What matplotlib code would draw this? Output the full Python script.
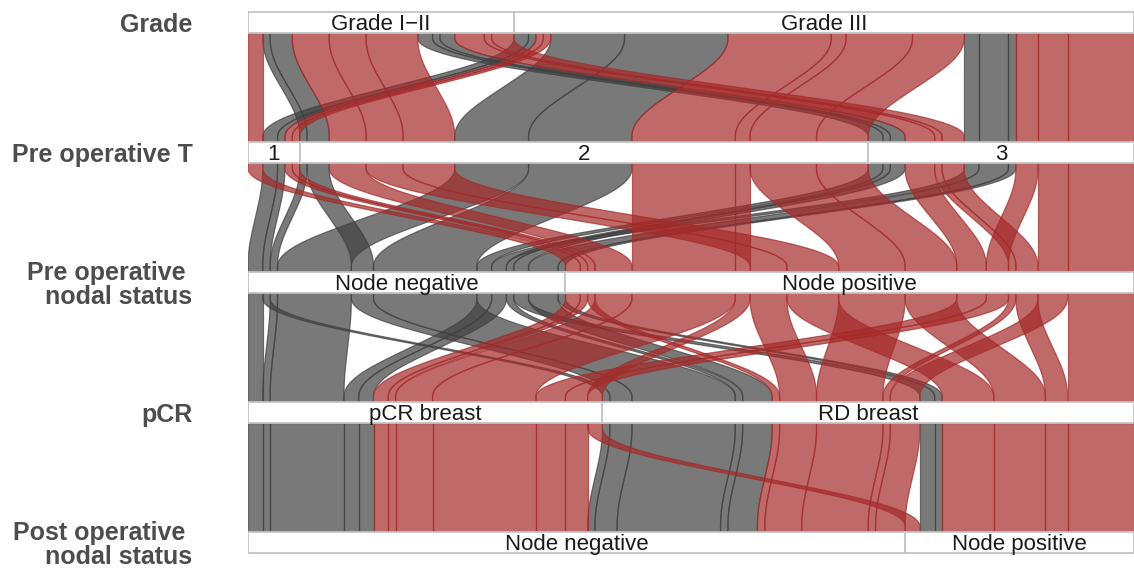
import numpy as np
import matplotlib.pyplot as plt
from matplotlib.patches import Rectangle, Polygon

plt.rcParams['font.family'] = ['Liberation Sans', 'DejaVu Sans']

# axes from top to bottom and their categories (left to right)
axis_titles = ["Grade", "Pre operative T", "Pre operative \nnodal status",
               "pCR", "Post operative \nnodal status"]
levels = [
    ["Grade I\u2212II", "Grade III"],
    ["1", "2", "3"],
    ["Node negative", "Node positive"],
    ["pCR breast", "RD breast"],
    ["Node negative", "Node positive"],
]

# patient groups (index into levels) and number of patients
grade  = [1, 1, 0, 0, 1, 1, 0, 0, 0, 1, 1, 1,
          0, 1, 1, 0, 0, 0, 1, 1, 1, 1, 0, 0, 0, 1, 1, 1]
pre_t  = [0, 0, 1, 1, 1, 1, 2, 2, 2, 2, 2, 2,
          0, 0, 0, 1, 1, 1, 1, 1, 1, 1, 2, 2, 2, 2, 2, 2]
pre_n  = [0, 0, 0, 0, 0, 0, 0, 0, 0, 0, 0, 0,
          1, 1, 1, 1, 1, 1, 1, 1, 1, 1, 1, 1, 1, 1, 1, 1]
pcr    = [0, 1, 0, 1, 0, 1, 0, 1, 1, 0, 1, 1,
          0, 0, 1, 0, 1, 1, 0, 0, 1, 1, 0, 1, 1, 0, 1, 1]
post_n = [0, 0, 0, 0, 0, 0, 0, 0, 1, 0, 0, 1,
          0, 0, 0, 0, 0, 1, 0, 1, 0, 1, 0, 0, 1, 0, 0, 1]
count  = [2, 1, 1, 3, 10, 14, 2, 1, 2, 2, 4, 1,
          2, 1, 1, 5, 5, 7, 14, 2, 9, 7, 4, 1, 3, 3, 4, 9]

# lode ordering inside each axis (zigzag over neighbouring axes)
sort_order = [[0, 1, 2, 3, 4],
              [1, 0, 2, 3, 4],
              [2, 1, 3, 0, 4],
              [3, 4, 2, 1, 0],
              [4, 3, 2, 1, 0]]

fill_colors = ["#404040", "#a52a2a"]   # pre operative node negative / positive

data = np.array([grade, pre_t, pre_n, pcr, post_n]).T
count = np.array(count)
total = count.sum()
n_axes = len(axis_titles)

# start position of every group on every axis
starts = np.zeros((n_axes, len(count)))
for k in range(n_axes):
    keys = [tuple(row[j] for j in sort_order[k]) for row in data]
    idx = sorted(range(len(count)), key=lambda i: keys[i])
    pos = 0
    for i in idx:
        starts[k, i] = pos
        pos += count[i]


def flow_curve(kp=0.25, n=30):
    # clamped cubic B-spline through (0,0),(0,kp),(1,1-kp),(1,1):
    # returns shift fraction and height fraction
    P = np.array([[0, 0], [0, 0], [0, 0], [0, kp],
                  [1, 1 - kp], [1, 1], [1, 1], [1, 1]], dtype=float)
    u = np.linspace(0, 1, n)[:, None]
    b0 = (1 - u) ** 3 / 6
    b1 = (3 * u ** 3 - 6 * u ** 2 + 4) / 6
    b2 = (-3 * u ** 3 + 3 * u ** 2 + 3 * u + 1) / 6
    b3 = u ** 3 / 6
    segs = [b0 * P[i] + b1 * P[i + 1] + b2 * P[i + 2] + b3 * P[i + 3]
            for i in range(len(P) - 3)]
    c = np.vstack(segs)
    return c[:, 0], c[:, 1]


fig = plt.figure(figsize=(11.34, 5.68), dpi=100)
ax = fig.add_axes([248 / 1134, 0, 886 / 1134, 1])
ax.set_xlim(0, total)
ax.set_ylim(4 + (568 - 542.5) / 130, -22.5 / 130)

hb = 10.5 / 130   # half height of the strata boxes
xs, ys = flow_curve(0.25)

for k in range(n_axes - 1):
    y0, y1 = k + hb, k + 1 - hb
    y = y0 + (y1 - y0) * ys
    for i in range(len(count)):
        a0, b0 = starts[k, i], starts[k + 1, i]
        left = a0 + (b0 - a0) * xs
        right = left + count[i]
        pts = np.vstack([np.column_stack([left, y]),
                         np.column_stack([right[::-1], y[::-1]])])
        col = fill_colors[data[i, 2]]
        ax.add_patch(Polygon(pts, closed=True, facecolor=col, edgecolor=col,
                             alpha=0.7, lw=0.9, zorder=2))

# strata boxes with labels
for k in range(n_axes):
    pos = 0
    for lv, name in enumerate(levels[k]):
        w = count[data[:, k] == lv].sum()
        ax.add_patch(Rectangle((pos, k - hb), w, 2 * hb, facecolor="white",
                               edgecolor="#c4c4c4", lw=1.3, zorder=3))
        ax.text(pos + w / 2, k + hb - 3 / 130, name, ha="center", va="baseline",
                fontsize=16, color="#1a1a1a", zorder=4)
        pos += w

ax.set_yticks(range(n_axes))
ax.set_yticklabels(axis_titles, fontsize=18, fontweight="bold", color="#4d4d4d",
                   linespacing=1.0)
ax.tick_params(axis="y", length=0, pad=40)
ax.set_xticks([])
for s in ax.spines.values():
    s.set_visible(False)

fig.savefig("out.png", dpi=100)
